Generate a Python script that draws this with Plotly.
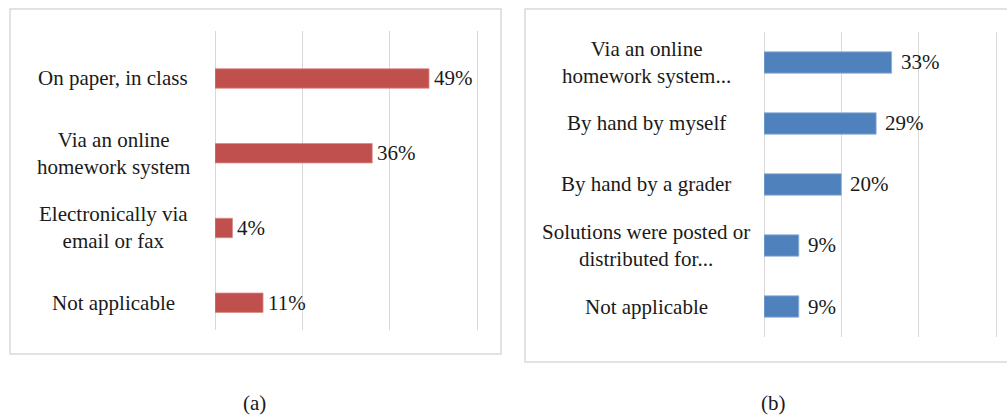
import plotly.graph_objects as go

W, H = 1007, 416

cats_a = ["On paper, in class", "Via an online<br>homework system",
          "Electronically via<br>email or fax", "Not applicable"]
vals_a = [49, 36, 4, 11]

cats_b = ["Via an online<br>homework system...", "By hand by myself",
          "By hand by a grader", "Solutions were posted or<br>distributed for...",
          "Not applicable"]
vals_b = [33, 29, 20, 9, 9]

x_ticks = [0, 20, 40, 60]
captions = ["(a)", "(b)"]

RED = "#C0504D"
BLUE = "#4F81BD"
GRID = "#d9d9d9"
TXT = "#1a1a1a"
FONT = "'Liberation Serif', 'Times New Roman', serif"

def px_x(p):
    return p / W

def px_y(p):
    return 1 - p / H

fig = go.Figure()
fig.add_trace(go.Bar(x=vals_a, y=cats_a, orientation="h", marker_color=RED,
                     marker_line_color="#d98a88", marker_line_width=0.8,
                     width=0.26, xaxis="x", yaxis="y", hoverinfo="skip"))
fig.add_trace(go.Bar(x=vals_b, y=cats_b, orientation="h", marker_color=BLUE,
                     marker_line_color="#8fb0d8", marker_line_width=0.8,
                     width=0.35, xaxis="x2", yaxis="y2", hoverinfo="skip"))

ann = []
for c, v in zip(cats_a, vals_a):
    ann.append(dict(x=v, y=c, xref="x", yref="y", text=f"{v}%", showarrow=False,
                    xanchor="left", xshift=3, font=dict(family=FONT, size=21, color=TXT)))
    ann.append(dict(x=px_x(113), y=c, xref="paper", yref="y", text=c, showarrow=False,
                    xanchor="center", align="center",
                    font=dict(family=FONT, size=21, color=TXT)))
for c, v in zip(cats_b, vals_b):
    ann.append(dict(x=v, y=c, xref="x2", yref="y2", text=f"{v}%", showarrow=False,
                    xanchor="left", xshift=7, font=dict(family=FONT, size=21, color=TXT)))
    ann.append(dict(x=px_x(646), y=c, xref="paper", yref="y2", text=c, showarrow=False,
                    xanchor="center", align="center",
                    font=dict(family=FONT, size=21, color=TXT)))
for cap, cx in zip(captions, [255, 773]):
    ann.append(dict(x=px_x(cx), y=px_y(403), xref="paper", yref="paper", text=cap,
                    showarrow=False, xanchor="center", yanchor="middle",
                    font=dict(family=FONT, size=21, color=TXT)))

shapes = [
    dict(type="rect", xref="paper", yref="paper", x0=px_x(10), x1=px_x(501),
         y0=px_y(354), y1=px_y(9), line=dict(color=GRID, width=1.5)),
    dict(type="rect", xref="paper", yref="paper", x0=px_x(525), x1=px_x(1012),
         y0=px_y(362), y1=px_y(9), line=dict(color=GRID, width=1.5)),
]

xcommon = dict(range=[0, 61], tickvals=x_ticks, showticklabels=False, showgrid=True,
               gridcolor=GRID, gridwidth=1.3, zeroline=True, zerolinecolor=GRID,
               zerolinewidth=1.3, showline=False, fixedrange=True)

fig.update_layout(
    width=W, height=H, margin=dict(l=0, r=0, t=0, b=0),
    paper_bgcolor="white", plot_bgcolor="white", showlegend=False,
    font=dict(family=FONT, color=TXT),
    xaxis=dict(domain=[px_x(215), px_x(481.4)], anchor="y", **xcommon),
    xaxis2=dict(domain=[px_x(764), px_x(999.9)], anchor="y2", **xcommon),
    yaxis=dict(domain=[px_y(330), px_y(31)], anchor="x", type="category",
               range=[3.365, -0.635], showticklabels=False, showgrid=False,
               zeroline=False, categoryorder="array", categoryarray=cats_a),
    yaxis2=dict(domain=[px_y(337), px_y(32)], anchor="x2", type="category",
                range=[4.5, -0.5], showticklabels=False, showgrid=False,
                zeroline=False, categoryorder="array", categoryarray=cats_b),
    annotations=ann, shapes=shapes,
)

fig.write_html("out.html", config={"displayModeBar": False},
               post_script="document.body.style.margin='0';document.body.style.overflow='hidden';")
